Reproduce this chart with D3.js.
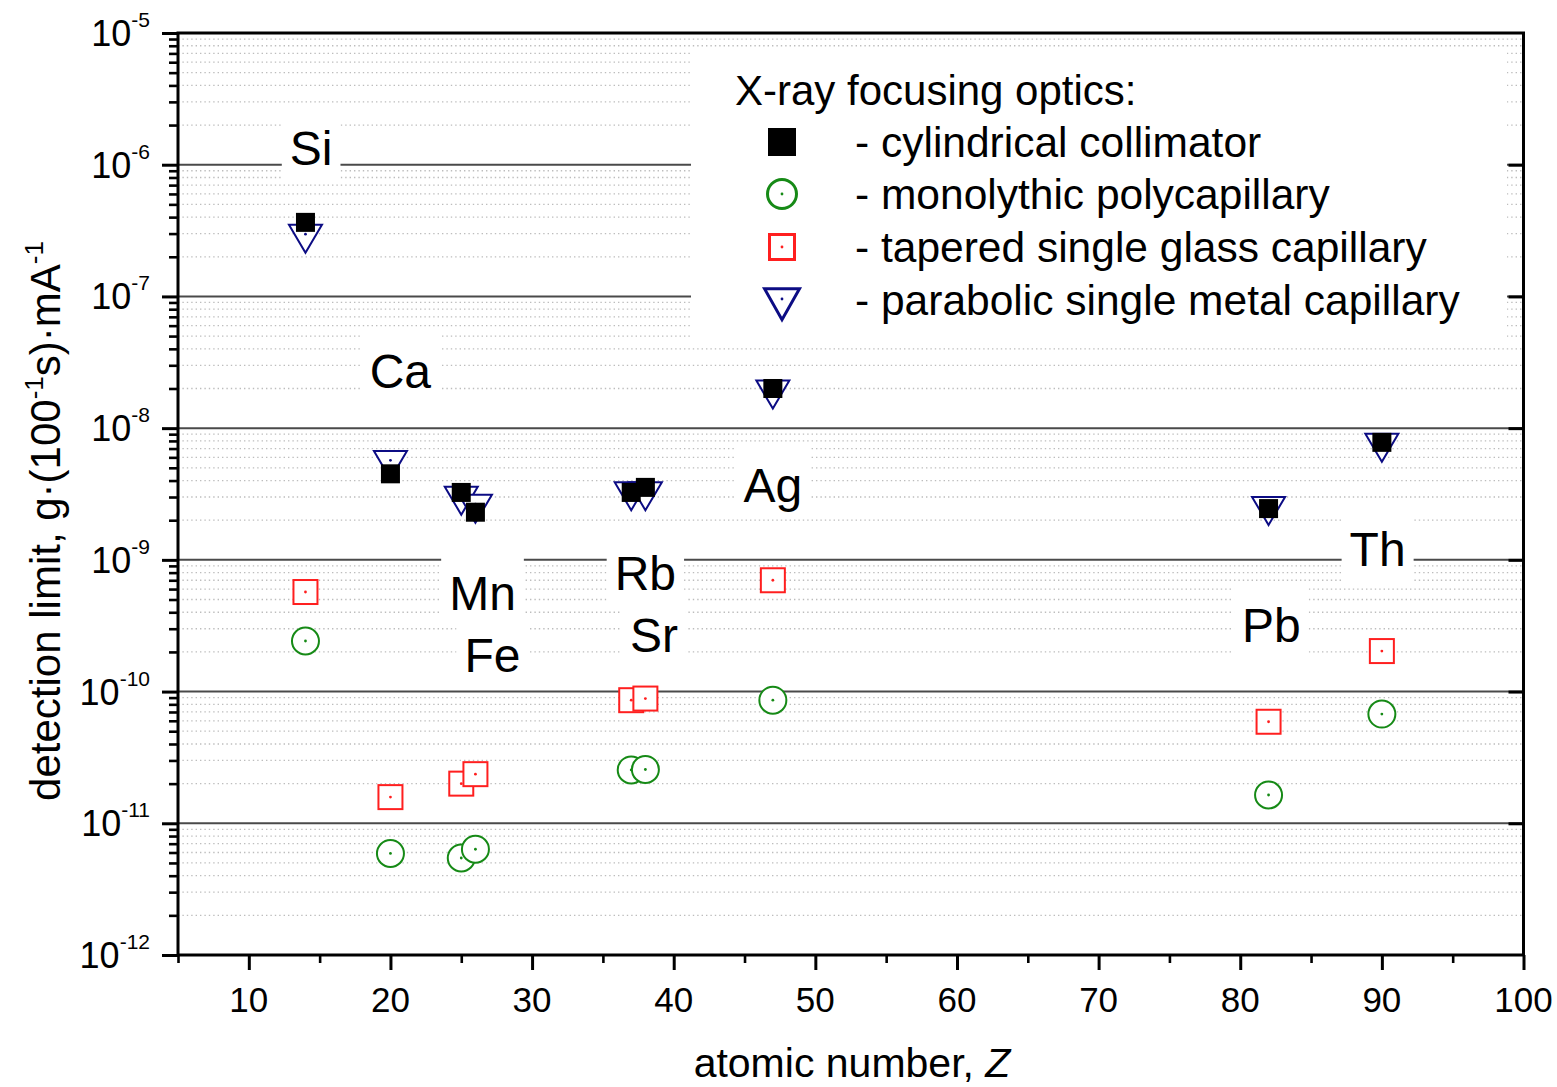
<!DOCTYPE html>
<html>
<head>
<meta charset="utf-8">
<script src="https://cdn.jsdelivr.net/npm/d3@7"></script>
<style>
  body { margin: 0; background: #fff; }
  text { font-family: "Liberation Sans", Arial, sans-serif; fill: #000; }
</style>
</head>
<body>
<svg id="chart" width="1557" height="1087"></svg>
<script>
// Elements and their atomic numbers
const elements = ["Si", "Ca", "Mn", "Fe", "Rb", "Sr", "Ag", "Pb", "Th"];
const atomicNumber = [14, 20, 25, 26, 37, 38, 47, 82, 90];

// Detection limits, g·(100^-1 s)·mA^-1, for each X-ray focusing optic
const cylindricalCollimator = [3.65e-7, 4.5e-9, 3.25e-9, 2.3e-9, 3.25e-9, 3.55e-9, 2.0e-8, 2.45e-9, 7.8e-9];
const monolithicPolycapillary = [2.42e-10, 5.9e-12, 5.45e-12, 6.35e-12, 2.54e-11, 2.56e-11, 8.6e-11, 1.64e-11, 6.75e-11];
const taperedGlassCapillary = [5.7e-10, 1.58e-11, 2.0e-11, 2.36e-11, 8.6e-11, 8.85e-11, 7.0e-10, 5.9e-11, 2.03e-10];
const parabolicMetalCapillary = [2.97e-7, 5.7e-9, 3.05e-9, 2.65e-9, 3.3e-9, 3.3e-9, 1.95e-8, 2.55e-9, 7.7e-9];

// Element label anchors (atomic-number position, baseline value)
const labelZ = [14.4, 20.7, 26.5, 27.2, 38.0, 38.6, 47.0, 82.2, 89.7];
const labelValue = [1.0e-6, 2.0e-8, 4.16e-10, 1.41e-10, 5.9e-10, 2.0e-10, 2.75e-9, 2.38e-10, 8.97e-10];

// Axis ticks
const xMajorTicks = [10, 20, 30, 40, 50, 60, 70, 80, 90, 100];
const xMinorTicks = [5, 15, 25, 35, 45, 55, 65, 75, 85, 95];
const yDecadeExponents = [-12, -11, -10, -9, -8, -7, -6, -5];

const legendTitle = "X-ray focusing optics:";
const legendLabels = [
  "- cylindrical collimator",
  "- monolythic polycapillary",
  "- tapered single glass capillary",
  "- parabolic single metal capillary"
];

const svg = d3.select("#chart");
const L = 178, R = 1523.5, T = 33, B = 955;

const x = d3.scaleLinear().domain([5, 100]).range([L, R]);
const y = d3.scaleLog().domain([1e-12, 1e-5]).range([B, T]);

const decades = yDecadeExponents.map(e => Math.pow(10, e));
const minorValues = [];
yDecadeExponents.slice(0, -1).forEach(e => {
  for (let k = 2; k <= 9; k++) minorValues.push(k * Math.pow(10, e));
});

// ---- grid ----
const grid = svg.append("g");
grid.selectAll("line.minor").data(minorValues).join("line")
  .attr("x1", L).attr("x2", R)
  .attr("y1", d => y(d)).attr("y2", d => y(d))
  .attr("stroke", "#bdbdbd").attr("stroke-width", 1.3)
  .attr("stroke-dasharray", "1.4,3");
grid.selectAll("line.major").data(decades.slice(1, -1)).join("line")
  .attr("x1", L).attr("x2", R)
  .attr("y1", d => y(d)).attr("y2", d => y(d))
  .attr("stroke", "#4a4a4a").attr("stroke-width", 2);

// ---- white panels behind legend and element labels ----
svg.append("rect")
  .attr("x", 691).attr("y", 49).attr("width", 1507 - 691).attr("height", 342 - 49)
  .attr("fill", "#fff");

const labelLayer = svg.append("g");
const labelBoxes = labelLayer.append("g");
const labelTexts = labelLayer.append("g");
elements.forEach((name, i) => {
  const t = labelTexts.append("text")
    .attr("x", x(labelZ[i])).attr("y", y(labelValue[i]))
    .attr("text-anchor", "middle")
    .attr("font-size", 48)
    .text(name);
  const bb = t.node().getBBox();
  const base = y(labelValue[i]);
  labelBoxes.append("rect")
    .attr("x", bb.x - 8).attr("y", base - 58)
    .attr("width", bb.width + 16).attr("height", 74)
    .attr("fill", "#fff");
});

// ---- axes ----
const axes = svg.append("g");
const yMajor = axes.append("g").attr("transform", `translate(${L},0)`)
  .call(d3.axisLeft(y).tickValues(decades).tickSize(16).tickFormat(""));
const yMinor = axes.append("g").attr("transform", `translate(${L},0)`)
  .call(d3.axisLeft(y).tickValues(minorValues).tickSize(9).tickFormat(""));
const yRight = axes.append("g").attr("transform", `translate(${R},0)`)
  .call(d3.axisLeft(y).tickValues(decades.slice(1, -1)).tickSize(15).tickFormat(""));
const xMajor = axes.append("g").attr("transform", `translate(0,${B})`)
  .call(d3.axisBottom(x).tickValues(xMajorTicks).tickSize(15).tickFormat(""));
const xMinor = axes.append("g").attr("transform", `translate(0,${B})`)
  .call(d3.axisBottom(x).tickValues(xMinorTicks).tickSize(8).tickFormat(""));
axes.selectAll(".domain").remove();
axes.selectAll(".tick line").attr("stroke", "#000").attr("stroke-width", 3);
yMinor.selectAll(".tick line").attr("stroke-width", 2.6);
xMinor.selectAll(".tick line").attr("stroke-width", 2.6);

// frame
svg.append("rect")
  .attr("x", L).attr("y", T).attr("width", R - L).attr("height", B - T)
  .attr("fill", "none").attr("stroke", "#000").attr("stroke-width", 3);

// x tick labels
svg.append("g").selectAll("text").data(xMajorTicks).join("text")
  .attr("x", d => x(d)).attr("y", 1012)
  .attr("text-anchor", "middle").attr("font-size", 35)
  .text(d => d);

// y tick labels 10^n
const yl = svg.append("g").selectAll("text").data(yDecadeExponents).join("text")
  .attr("x", 150).attr("y", d => y(Math.pow(10, d)) + 13)
  .attr("text-anchor", "end");
yl.append("tspan").attr("font-size", 36).text("10");
yl.append("tspan").attr("font-size", 21).attr("dy", -19).text(d => "-" + Math.abs(d));

// axis titles
const xt = svg.append("text")
  .attr("x", 852).attr("y", 1077).attr("text-anchor", "middle").attr("font-size", 41);
xt.append("tspan").text("atomic number, ");
xt.append("tspan").attr("font-style", "italic").text("Z");

const ytitle = svg.append("text")
  .attr("transform", "translate(60,521) rotate(-90)")
  .attr("text-anchor", "middle").attr("font-size", 42);
ytitle.append("tspan").text("detection limit, g\u00B7(100");
ytitle.append("tspan").attr("font-size", 26).attr("dy", -17).text("-1");
ytitle.append("tspan").attr("dy", 17).text("s)\u00B7mA");
ytitle.append("tspan").attr("font-size", 26).attr("dy", -17).text("-1");

// ---- markers ----
const colors = { black: "#000", green: "#168a16", red: "#ff1f1f", navy: "#0c0c84" };

function triPath(cx, cy, w, h) {
  // downward triangle with its centroid at (cx, cy)
  const top = cy - h / 3, bot = cy + 2 * h / 3;
  return `M${cx - w / 2},${top}L${cx + w / 2},${top}L${cx},${bot}Z`;
}

function drawCircle(g, cx, cy, r, sw) {
  g.append("circle").attr("cx", cx).attr("cy", cy).attr("r", r)
    .attr("fill", "#fff").attr("stroke", colors.green).attr("stroke-width", sw);
  g.append("circle").attr("cx", cx).attr("cy", cy).attr("r", 1.4).attr("fill", colors.green);
}
function drawOpenSquare(g, cx, cy, s, sw) {
  g.append("rect").attr("x", cx - s / 2).attr("y", cy - s / 2).attr("width", s).attr("height", s)
    .attr("fill", "#fff").attr("stroke", colors.red).attr("stroke-width", sw);
  g.append("circle").attr("cx", cx).attr("cy", cy).attr("r", 1.4).attr("fill", colors.red);
}
function drawTriangle(g, cx, cy, w, h, sw) {
  g.append("path").attr("d", triPath(cx, cy, w, h))
    .attr("fill", "#fff").attr("stroke", colors.navy).attr("stroke-width", sw)
    .attr("stroke-linejoin", "miter");
  g.append("circle").attr("cx", cx).attr("cy", cy).attr("r", 1.4).attr("fill", colors.navy);
}
function drawFilledSquare(g, cx, cy, s) {
  g.append("rect").attr("x", cx - s / 2).attr("y", cy - s / 2).attr("width", s).attr("height", s)
    .attr("fill", colors.black);
}

const marks = svg.append("g");
atomicNumber.forEach((z, i) => drawCircle(marks, x(z), y(monolithicPolycapillary[i]), 13.5, 2));
atomicNumber.forEach((z, i) => drawOpenSquare(marks, x(z), y(taperedGlassCapillary[i]), 24, 2));
atomicNumber.forEach((z, i) => drawTriangle(marks, x(z), y(parabolicMetalCapillary[i]), 33, 28, 2));
atomicNumber.forEach((z, i) => drawFilledSquare(marks, x(z), y(cylindricalCollimator[i]), 19));

// ---- legend ----
const lg = svg.append("g");
lg.append("text").attr("x", 735).attr("y", 105).attr("font-size", 42).text(legendTitle);
const rowY = [142, 194, 247, 300];
const symX = 782;
drawFilledSquare(lg, symX, rowY[0], 28);
drawCircle(lg, symX, rowY[1], 14.5, 3);
drawOpenSquare(lg, symX, rowY[2], 25, 3);
drawTriangle(lg, symX, rowY[3] - 1, 35, 31, 3);
lg.selectAll("text.item").data(legendLabels).join("text")
  .attr("class", "item")
  .attr("x", 855).attr("y", (d, i) => rowY[i] + 15)
  .attr("font-size", 42.5)
  .text(d => d);
</script>
</body>
</html>
